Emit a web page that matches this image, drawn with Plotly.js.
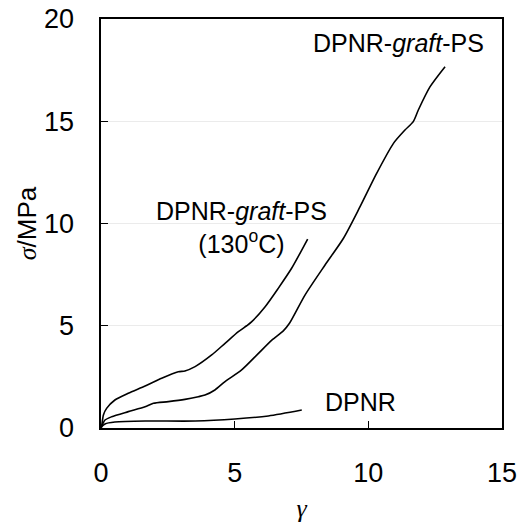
<!DOCTYPE html>
<html>
<head>
<meta charset="utf-8">
<script src="https://cdn.plot.ly/plotly-3.0.1.min.js"></script>
<style>html,body{margin:0;padding:0;background:#fff;}#chart{width:527px;height:524px;}</style>
</head>
<body>
<div id="chart"></div>
<script>
// DPNR-graft-PS (130 oC)
const graft130X = [0, 0.03, 0.09, 0.21, 0.52, 1.02, 1.65, 2.27, 2.89, 3.14, 3.52, 4.14, 4.64, 5.14, 5.45, 5.64, 6.14, 6.63, 7.13, 7.73];
const graft130Y = [0, 0.15, 0.64, 0.96, 1.37, 1.70, 2.05, 2.43, 2.75, 2.79, 3.00, 3.57, 4.14, 4.71, 5.00, 5.20, 5.93, 6.83, 7.81, 9.24];
// DPNR-graft-PS
const graftX = [0, 0.03, 0.15, 0.40, 1.02, 1.65, 1.96, 2.52, 3.14, 3.64, 3.89, 4.26, 4.64, 5.26, 5.89, 6.39, 6.82, 7.05, 7.63, 8.38, 9.07, 9.69, 10.31, 10.94, 11.37, 11.68, 11.87, 12.31, 12.87];
const graftY = [0, 0.10, 0.39, 0.55, 0.80, 1.04, 1.21, 1.29, 1.40, 1.53, 1.61, 1.86, 2.27, 2.84, 3.65, 4.30, 4.75, 5.12, 6.50, 7.97, 9.28, 10.82, 12.45, 13.92, 14.57, 14.98, 15.55, 16.69, 17.67];
// DPNR
const dpnrX = [0, 0.05, 0.15, 0.52, 1.65, 3.52, 5.01, 6.26, 7.51];
const dpnrY = [0, 0.10, 0.20, 0.29, 0.34, 0.34, 0.44, 0.59, 0.88];

const xTicks = [0, 5, 10, 15];
const yTicks = [0, 5, 10, 15, 20];
const labels = ['DPNR-<i>graft</i>-PS', 'DPNR-<i>graft</i>-PS<br>(130<sup>o</sup>C)', 'DPNR'];

const line = {color: '#000', width: 1.6, shape: 'spline', smoothing: 0.7};
const traces = [
  {x: graft130X, y: graft130Y, mode: 'lines', line: line, hoverinfo: 'skip'},
  {x: graftX, y: graftY, mode: 'lines', line: line, hoverinfo: 'skip'},
  {x: dpnrX, y: dpnrY, mode: 'lines', line: line, hoverinfo: 'skip'}
];

const font = {family: 'Liberation Sans, Arial, sans-serif', color: '#000'};
const layout = {
  width: 527, height: 524,
  margin: {l: 101, r: 25, t: 19, b: 96},
  paper_bgcolor: '#fff', plot_bgcolor: '#fff',
  showlegend: false,
  font: Object.assign({size: 25}, font),
  xaxis: {
    range: [0, 15], tickvals: xTicks, ticktext: xTicks.map(String),
    ticks: 'inside', ticklen: 7, tickwidth: 1.2, tickcolor: '#000',
    showline: true, linecolor: '#000', linewidth: 1.6, mirror: true,
    showgrid: false, zeroline: false,
    tickfont: Object.assign({size: 27}, font),
    ticklabelstandoff: 20,
    title: {text: '<i>γ</i>', font: {family: 'Liberation Serif, Times New Roman, serif', size: 26, color: '#000'}, standoff: 12}
  },
  yaxis: {
    range: [0, 20], tickvals: yTicks, ticktext: yTicks.map(String),
    ticks: 'inside', ticklen: 7, tickwidth: 1.2, tickcolor: '#000',
    showline: true, linecolor: '#000', linewidth: 1.6, mirror: true,
    showgrid: true, gridcolor: '#ebebeb', gridwidth: 1, zeroline: false,
    tickfont: Object.assign({size: 27}, font),
    ticklabelstandoff: 20,
    title: {text: '<span style="font-family:Liberation Serif"><i>σ</i></span>/MPa', font: Object.assign({size: 26}, font), standoff: 0}
  },
  annotations: [
    {x: 11.11, y: 18.83, xref: 'x', yref: 'y', text: labels[0], showarrow: false, xanchor: 'center', yanchor: 'middle', font: Object.assign({size: 25}, font)},
    {x: 5.26, y: 9.8, xref: 'x', yref: 'y', text: labels[1], showarrow: false, xanchor: 'center', yanchor: 'middle', font: Object.assign({size: 25}, font)},
    {x: 9.69, y: 1.29, xref: 'x', yref: 'y', text: labels[2], showarrow: false, xanchor: 'center', yanchor: 'middle', font: Object.assign({size: 25}, font)}
  ]
};

Plotly.newPlot('chart', traces, layout, {displayModeBar: false, staticPlot: true});
</script>
</body>
</html>
